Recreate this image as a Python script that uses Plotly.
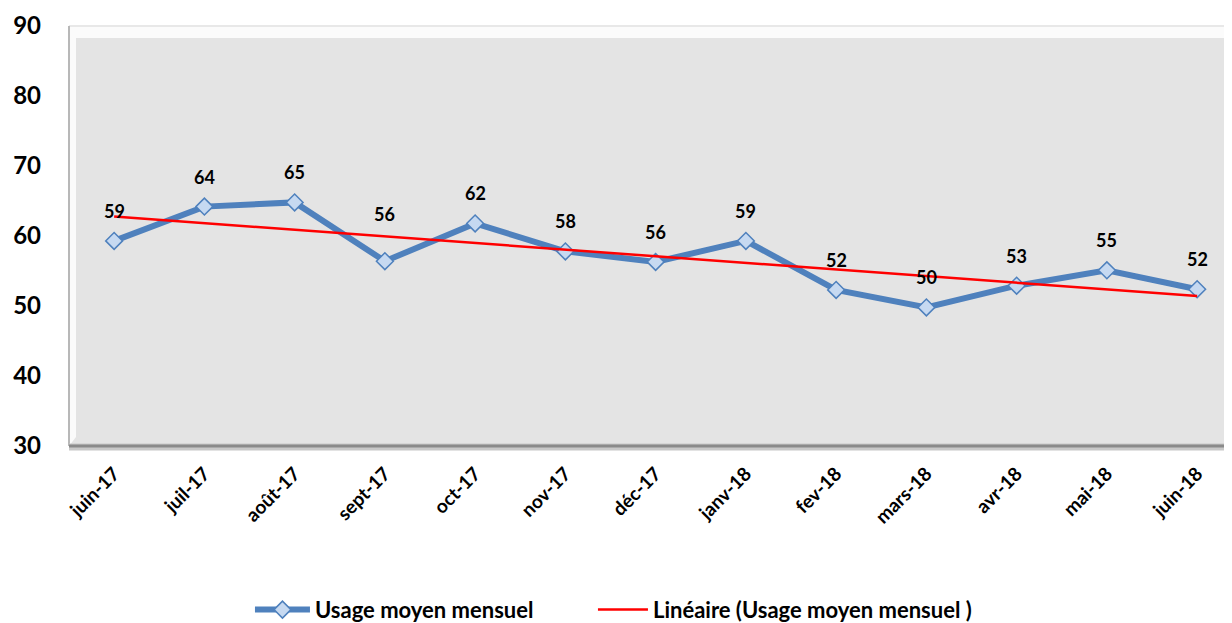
import numpy as np
import plotly.graph_objects as go

# monthly average usage
months = ['juin-17', 'juil-17', 'août-17', 'sept-17', 'oct-17', 'nov-17', 'déc-17',
          'janv-18', 'fev-18', 'mars-18', 'avr-18', 'mai-18', 'juin-18']
usage = [59.3, 64.2, 64.8, 56.4, 61.8, 57.8, 56.3, 59.3, 52.3, 49.8, 52.9, 55.1, 52.4]

c_blue = '#4f81bd'
c_marker = '#c6d9f1'
c_red = '#ff0000'
c_bg = '#e4e4e4'
font_name = 'Lato, Open Sans, sans-serif'

# linear trend (Excel "Linéaire")
xi = np.arange(len(usage))
slope, intercept = np.polyfit(xi, usage, 1)
trend = slope * xi + intercept

fig = go.Figure()
fig.add_trace(go.Scatter(
    x=months, y=usage,
    mode='lines+markers',
    name='Usage moyen mensuel',
    legend='legend',
    line=dict(color=c_blue, width=6),
    marker=dict(symbol='diamond', size=13, color=c_marker,
                line=dict(color=c_blue, width=1.5)),
))
fig.add_trace(go.Scatter(
    x=months, y=trend,
    mode='lines',
    name='Linéaire (Usage moyen mensuel )',
    legend='legend2',
    line=dict(color=c_red, width=2.5),
))

# data labels above the points
for m, v in zip(months, usage):
    fig.add_annotation(x=m, y=v, text=str(int(v + 0.5)), showarrow=False,
                       yshift=47 if m == 'sept-17' else 30,
                       font=dict(family=font_name, size=18, color='#000000', weight='bold'))

# bevel effect of the plot area
h = 420.0
w = 1171.0
fig.add_shape(type='path', xref='paper', yref='paper', layer='below', line_width=0,
              fillcolor='#fbfbfb',
              path=f'M 0 1 L 1 1 L 1 {1 - 12/h} L {7/w} {1 - 12/h} L {7/w} {9/h} L 0 0 Z')
fig.add_shape(type='line', xref='paper', yref='paper', x0=0, x1=1, y0=1, y1=1,
              line=dict(color='#e8e8e8', width=2))
fig.add_shape(type='line', xref='paper', yref='paper', x0=0, x1=0, y0=0, y1=1,
              line=dict(color='#b8b8b8', width=2))
fig.add_shape(type='line', xref='paper', yref='paper', x0=0, x1=1, y0=-1/h, y1=-1/h,
              line=dict(color='#c8c8c8', width=7))
fig.add_shape(type='line', xref='paper', yref='paper', x0=0, x1=1, y0=0, y1=0,
              line=dict(color='#8a8a8a', width=3))

leg_font = dict(family=font_name, size=22, color='#000000', weight='bold')

fig.update_layout(
    width=1232, height=623,
    margin=dict(l=61, r=0, t=18, b=185),
    paper_bgcolor='white',
    plot_bgcolor=c_bg,
    font=dict(family=font_name, color='#000000'),
    showlegend=True,
    legend=dict(orientation='h', x=0.1964, xanchor='left', xref='container',
                y=0.034, yanchor='middle', yref='container',
                font=leg_font, itemwidth=55, bgcolor='rgba(0,0,0,0)'),
    legend2=dict(orientation='h', x=0.4748, xanchor='left', xref='container',
                 y=0.034, yanchor='middle', yref='container',
                 font=leg_font, itemwidth=50, bgcolor='rgba(0,0,0,0)'),
    xaxis=dict(range=[-0.5, 12.475], showgrid=False, zeroline=False, showline=False,
               automargin=False, tickangle=-45, ticks='', ticklabelstandoff=12,
               tickfont=dict(family=font_name, size=19, weight='bold')),
    yaxis=dict(range=[30, 90], dtick=10, showgrid=False, zeroline=False, showline=False,
               automargin=False, ticks='', ticklabelstandoff=27,
               tickfont=dict(family=font_name, size=24, weight='bold')),
)

fig.write_html('out.html')
